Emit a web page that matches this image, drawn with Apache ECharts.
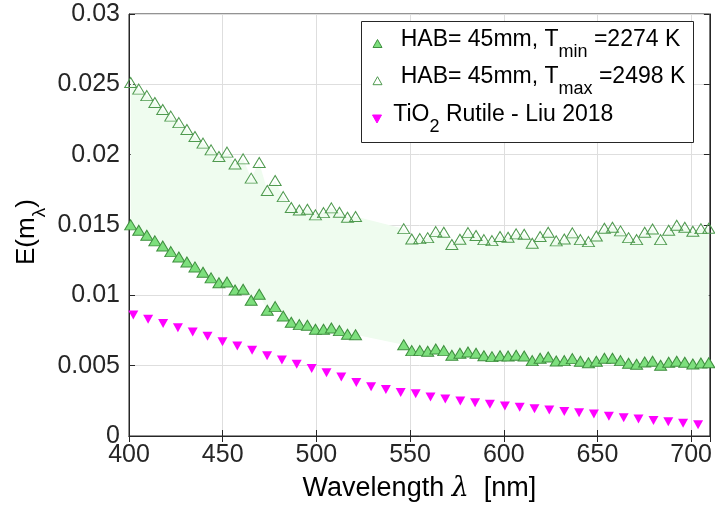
<!DOCTYPE html>
<html>
<head>
<meta charset="utf-8">
<script src="https://cdn.jsdelivr.net/npm/echarts@6/dist/echarts.min.js"></script>
<style>html,body{margin:0;padding:0;background:#fff}#c{width:715px;height:511px}</style>
</head>
<body>
<div id="c"></div>
<script>
// Wavelengths [nm] for the HAB=45mm measurements (two segments)
var wlA = [400.9, 405.2, 409.5, 413.8, 418.0, 422.3, 426.6, 430.9, 435.2, 439.5, 443.8, 448.0, 452.3, 456.6, 460.9, 465.2, 469.5, 473.8, 478.0, 482.3, 486.6, 490.9, 495.2, 499.5, 503.8, 508.0, 512.3, 516.6, 520.9];
var wlB = [546.6, 550.9, 555.2, 559.4, 563.7, 568.0, 572.3, 576.6, 580.9, 585.2, 589.4, 593.7, 598.0, 602.3, 606.6, 610.9, 615.2, 619.4, 623.7, 628.0, 632.3, 636.6, 640.9, 645.2, 649.4, 653.7, 658.0, 662.3, 666.6, 670.9, 675.2, 679.4, 683.7, 688.0, 692.3, 696.6, 700.9, 705.2, 709.4];
// E(m) at Tmin = 2274 K
var eMinA = [0.01501, 0.01463, 0.01427, 0.01387, 0.01351, 0.01311, 0.01273, 0.01237, 0.01202, 0.01164, 0.01124, 0.01090, 0.01095, 0.01038, 0.01043, 0.00965, 0.01008, 0.00894, 0.00920, 0.00853, 0.00809, 0.00792, 0.00787, 0.00759, 0.00759, 0.00768, 0.00749, 0.00723, 0.00720];
var eMinB = [0.00649, 0.00607, 0.00607, 0.00602, 0.00619, 0.00607, 0.00574, 0.00588, 0.00597, 0.00588, 0.00571, 0.00564, 0.00571, 0.00569, 0.00574, 0.00569, 0.00536, 0.00553, 0.00562, 0.00533, 0.00536, 0.00550, 0.00531, 0.00521, 0.00531, 0.00553, 0.00553, 0.00536, 0.00517, 0.00510, 0.00526, 0.00531, 0.00503, 0.00524, 0.00531, 0.00524, 0.00512, 0.00519, 0.00521];
// E(m) at Tmax = 2498 K
var eMaxA = [0.02513, 0.02466, 0.02420, 0.02371, 0.02321, 0.02274, 0.02228, 0.02179, 0.02129, 0.02082, 0.02034, 0.01987, 0.02018, 0.01934, 0.01970, 0.01833, 0.01944, 0.01745, 0.01816, 0.01702, 0.01624, 0.01607, 0.01612, 0.01572, 0.01588, 0.01622, 0.01591, 0.01555, 0.01560];
var eMaxB = [0.01474, 0.01401, 0.01403, 0.01410, 0.01453, 0.01449, 0.01361, 0.01399, 0.01446, 0.01425, 0.01396, 0.01389, 0.01418, 0.01413, 0.01437, 0.01434, 0.01370, 0.01418, 0.01449, 0.01387, 0.01401, 0.01444, 0.01396, 0.01382, 0.01422, 0.01477, 0.01484, 0.01458, 0.01410, 0.01396, 0.01449, 0.01472, 0.01396, 0.01463, 0.01498, 0.01484, 0.01456, 0.01474, 0.01477];
// TiO2 Rutile - Liu 2018
var wlLiu = [402.3, 410.2, 418.2, 426.1, 434.0, 441.9, 449.9, 457.8, 465.7, 473.7, 481.6, 489.5, 497.5, 505.4, 513.3, 521.3, 529.2, 537.1, 545.0, 553.0, 560.9, 568.8, 576.8, 584.7, 592.6, 600.6, 608.5, 616.4, 624.3, 632.3, 640.2, 648.1, 656.1, 664.0, 671.9, 679.9, 687.8, 695.7, 703.7];
var eLiu = [0.0086, 0.0083, 0.0080, 0.0077, 0.0074, 0.0071, 0.0067, 0.0064, 0.0061, 0.0057, 0.0054, 0.0051, 0.0048, 0.0045, 0.0042, 0.0038, 0.0035, 0.0033, 0.0031, 0.0030, 0.00277, 0.00263, 0.00249, 0.00237, 0.00225, 0.00213, 0.00204, 0.00194, 0.00185, 0.00175, 0.00166, 0.00156, 0.0014, 0.0013, 0.00121, 0.00111, 0.00102, 0.0009, 0.0008];
// axis ticks
var xTicks = {min: 400, max: 710, interval: 50};
var yTicks = {min: 0, max: 0.03, interval: 0.005};
// legend label pieces: [main, subscript, rest]
var legendLabels = [
  ['HAB= 45mm, T', 'min', ' =2274 K'],
  ['HAB= 45mm, T', 'max', ' =2498 K'],
  ['TiO', '2', ' Rutile - Liu 2018']
];
var yLabelParts = ['E(m', 'λ', ')'];

function pairs(xs, ys) { return xs.map(function (x, i) { return [x, ys[i]]; }); }
var wlAll = wlA.concat(wlB);
var minAll = eMinA.concat(eMinB);
var maxAll = eMaxA.concat(eMaxB);

var FONTNAME = '"Liberation Sans", Arial, Helvetica, sans-serif';
var AX = '#262626';
var COL_MIN = {fill: '#7ddf7d', stroke: '#3f8f3f'};
var COL_MAX = {fill: 'rgba(255,255,255,0)', stroke: '#4f9a4f'};
var COL_LIU = '#ff00ff';

var mctx = document.createElement('canvas').getContext('2d');
function tw(t, size) { mctx.font = size + 'px ' + FONTNAME; return mctx.measureText(t).width; }

// ---- legend built from graphic elements (real text, with subscripts) ----
var LG = {x: 361.5, y: 21.5, w: 332, h: 121, fs: 23, sfs: 18};
var rows = [
  {tx: 400.7, base: 46.7, icon: 'up', col: COL_MIN, ix: 377.5, iy: 43.5},
  {tx: 400.7, base: 84.0, icon: 'up', col: COL_MAX, ix: 377.5, iy: 80.7},
  {tx: 393.3, base: 121.7, icon: 'down', col: {fill: COL_LIU, stroke: COL_LIU}, ix: 377.0, iy: 119}
];
var gEls = [{
  type: 'rect', z: 100, silent: true,
  shape: {x: LG.x, y: LG.y, width: LG.w, height: LG.h},
  style: {fill: '#fff', stroke: AX, lineWidth: 1}
}];
rows.forEach(function (r, i) {
  var p = legendLabels[i];
  var pts = r.icon === 'up'
    ? [[r.ix - 4.5, r.iy + 4], [r.ix + 4.5, r.iy + 4], [r.ix, r.iy - 4]]
    : [[r.ix - 4.5, r.iy - 4], [r.ix + 4.5, r.iy - 4], [r.ix, r.iy + 4]];
  gEls.push({type: 'polygon', z: 101, silent: true, shape: {points: pts},
    style: {fill: r.col.fill, stroke: r.col.stroke, lineWidth: 1}});
  var w0 = tw(p[0], LG.fs), w1 = tw(p[1], LG.sfs);
  var mainMid = r.base - 0.31 * LG.fs, subMid = r.base + 10.6 - 0.31 * LG.sfs;
  var mk = function (t, x, y, fs) {
    return {type: 'text', z: 101, silent: true, x: x, y: y,
      style: {text: t, font: fs + 'px ' + FONTNAME, fill: '#000', align: 'left', verticalAlign: 'middle'}};
  };
  gEls.push(mk(p[0], r.tx, mainMid, LG.fs));
  gEls.push(mk(p[1], r.tx + w0, subMid, LG.sfs));
  gEls.push(mk(p[2], r.tx + w0 + w1, mainMid, LG.fs));
});
// ---- y axis title E(m_lambda), rotated ----
var YT = {x: 35, y: 265, fs: 26, sfs: 19, sub: 11};
var yw0 = tw(yLabelParts[0], YT.fs), yw1 = tw(yLabelParts[1], YT.sfs);
var mkR = function (t, x, y, fs) {
  return {type: 'text', silent: true, x: x, y: y,
    style: {text: t, font: fs + 'px ' + FONTNAME, fill: '#000', align: 'left', verticalAlign: 'middle'}};
};
gEls.push({type: 'group', x: YT.x, y: YT.y, rotation: Math.PI / 2, silent: true, children: [
  mkR(yLabelParts[0], 0, -0.31 * YT.fs, YT.fs),
  mkR(yLabelParts[1], yw0, YT.sub - 0.31 * YT.sfs, YT.sfs),
  mkR(yLabelParts[2], yw0 + yw1, -0.31 * YT.fs, YT.fs)
]});

var chart = echarts.init(document.getElementById('c'), null, {renderer: 'canvas'});
chart.setOption({
  animation: false,
  backgroundColor: '#fff',
  grid: {left: 129, right: 2, top: 14, bottom: 75, show: true, borderColor: AX, borderWidth: 1, backgroundColor: 'transparent'},
  xAxis: [{
    type: 'value', min: xTicks.min, max: xTicks.max, interval: xTicks.interval,
    axisLine: {show: true, lineStyle: {color: AX, width: 1}},
    axisTick: {show: true, inside: true, length: 6, lineStyle: {color: AX}},
    axisLabel: {color: AX, fontSize: 25, fontFamily: FONTNAME, margin: 7},
    splitLine: {show: true, lineStyle: {color: '#dedede', width: 1}},
    name: '{a|Wavelength }{l|λ}{a|  [nm]}', nameLocation: 'middle', nameGap: 39,
    nameTextStyle: {rich: {
      a: {fontSize: 27, fontFamily: FONTNAME, color: '#000'},
      l: {fontSize: 27, fontFamily: '"DejaVu Serif", serif', fontStyle: 'italic', color: '#000'}
    }}
  }, {
    type: 'value', position: 'top', min: xTicks.min, max: xTicks.max, interval: xTicks.interval,
    axisLine: {show: true, lineStyle: {color: AX}},
    axisTick: {show: true, inside: true, length: 6, lineStyle: {color: AX}},
    axisLabel: {show: false}, splitLine: {show: false}
  }],
  yAxis: [{
    type: 'value', min: yTicks.min, max: yTicks.max, interval: yTicks.interval,
    axisLine: {show: true, lineStyle: {color: AX, width: 1}},
    axisTick: {show: true, inside: true, length: 6, lineStyle: {color: AX}},
    axisLabel: {color: AX, fontSize: 25, fontFamily: FONTNAME, margin: 9},
    splitLine: {show: true, lineStyle: {color: '#dedede', width: 1}}
  }, {
    type: 'value', position: 'right', min: yTicks.min, max: yTicks.max, interval: yTicks.interval,
    axisLine: {show: true, lineStyle: {color: AX}},
    axisTick: {show: true, inside: true, length: 6, lineStyle: {color: AX}},
    axisLabel: {show: false}, splitLine: {show: false}
  }],
  graphic: {elements: gEls},
  series: [
    {
      name: 'band', type: 'custom', coordinateSystem: 'cartesian2d', silent: true, z: 1,
      data: [[wlAll[0], minAll[0]]],
      renderItem: function (params, api) {
        var pts = [];
        for (var i = 0; i < wlAll.length; i++) pts.push(api.coord([wlAll[i], minAll[i]]));
        for (var j = wlAll.length - 1; j >= 0; j--) pts.push(api.coord([wlAll[j], maxAll[j]]));
        return {type: 'polygon', shape: {points: pts}, style: {fill: '#effcef', stroke: null}};
      }
    },
    {
      name: 'HAB= 45mm, Tmin =2274 K', type: 'scatter', symbol: 'triangle', symbolSize: [12, 10],
      data: pairs(wlA, eMinA).concat(pairs(wlB, eMinB)),
      itemStyle: {color: COL_MIN.fill, borderColor: COL_MIN.stroke, borderWidth: 1, opacity: 1}, z: 3
    },
    {
      name: 'HAB= 45mm, Tmax =2498 K', type: 'scatter', symbol: 'triangle', symbolSize: [12, 10],
      data: pairs(wlA, eMaxA).concat(pairs(wlB, eMaxB)),
      itemStyle: {color: COL_MAX.fill, borderColor: COL_MAX.stroke, borderWidth: 1, opacity: 1}, z: 3
    },
    {
      name: 'TiO2 Rutile - Liu 2018', type: 'scatter', symbol: 'path://M0,0L10,0L5,9Z', symbolSize: [10, 9],
      data: pairs(wlLiu, eLiu),
      itemStyle: {color: COL_LIU, opacity: 1}, z: 3
    }
  ]
});
</script>
</body>
</html>
